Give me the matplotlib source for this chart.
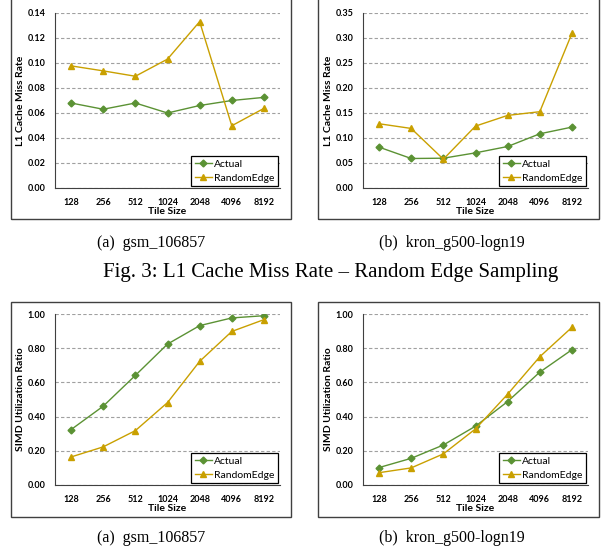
import numpy as np
import matplotlib.pyplot as plt
from matplotlib.patches import Rectangle

# Tile sizes (categories)
tiles = ['128', '256', '512', '1024', '2048', '4096', '8192']

# L1 cache miss rate
gsm_l1_actual = [0.068, 0.063, 0.068, 0.060, 0.066, 0.070, 0.0725]
gsm_l1_random = [0.0977, 0.0937, 0.0894, 0.1031, 0.1331, 0.0498, 0.0637]
kron_l1_actual = [0.0817, 0.0590, 0.0596, 0.0703, 0.0830, 0.1084, 0.1218]
kron_l1_random = [0.1285, 0.1191, 0.0576, 0.1238, 0.1452, 0.1526, 0.3092]

# SIMD utilization ratio
gsm_simd_actual = [0.324, 0.461, 0.641, 0.824, 0.932, 0.977, 0.990]
gsm_simd_random = [0.164, 0.223, 0.318, 0.482, 0.723, 0.898, 0.967]
kron_simd_actual = [0.102, 0.156, 0.234, 0.344, 0.488, 0.660, 0.791]
kron_simd_random = [0.072, 0.100, 0.182, 0.328, 0.531, 0.750, 0.922]

green = '#5b9234'
gold = '#c9a000'
W, H = 602, 554

fig = plt.figure(figsize=(W / 100, H / 100), dpi=100)


def px_axes(x0, y0, x1, y1):
    # pixel box (top-left origin) -> figure fraction
    return [x0 / W, 1 - y1 / H, (x1 - x0) / W, (y1 - y0) / H]


def frame(x0, y0, x1, y1):
    r = Rectangle((x0 / W, 1 - y1 / H), (x1 - x0) / W, (y1 - y0) / H,
                  transform=fig.transFigure, fill=False, edgecolor='#404040',
                  linewidth=1.0)
    fig.patches.append(r)


def panel(box, actual, random, ylim, yticks, ylabel):
    ax = fig.add_axes(px_axes(*box))
    x = np.arange(len(tiles))
    ax.plot(x, actual, color=green, marker='D', markersize=3.5, linewidth=1.0,
            label='Actual')
    ax.plot(x, random, color=gold, marker='^', markersize=5, linewidth=1.0,
            label='RandomEdge')
    ax.set_xlim(-0.5, len(tiles) - 0.5)
    ax.set_ylim(*ylim)
    ax.set_yticks(yticks)
    ax.set_yticklabels([f'{v:.2f}' for v in yticks], fontsize=6.5,
                       fontweight='bold', family='Lato')
    ax.set_xticks(x)
    ax.set_xticklabels(tiles, fontsize=6.5, fontweight='bold', family='Lato')
    ax.tick_params(length=0, pad=7)
    ax.grid(axis='y', color='#a0a0a0', linestyle=(0, (3, 2)), linewidth=0.8)
    ax.set_axisbelow(True)
    for s in ['top', 'right']:
        ax.spines[s].set_visible(False)
    ax.spines['left'].set_color('#404040')
    ax.spines['bottom'].set_color('#404040')
    ax.spines['left'].set_linewidth(0.8)
    ax.spines['bottom'].set_linewidth(0.8)
    ax.set_xlabel('Tile Size', fontsize=7.5, fontweight='bold', family='Lato',
                  labelpad=0)
    ax.set_ylabel(ylabel, fontsize=7.5, fontweight='bold', family='Lato',
                  labelpad=2)
    leg = ax.legend(loc='lower right', bbox_to_anchor=(0.99, 0.01),
                    borderaxespad=0, fancybox=False, framealpha=1,
                    edgecolor='black', prop={'family': 'Lato', 'size': 7.5},
                    handlelength=1.6, handletextpad=0.2, borderpad=0.35,
                    labelspacing=0.45)
    leg.get_frame().set_linewidth(0.9)
    return ax


# top row: L1 cache miss rate
frame(11, -10, 291, 219)
frame(318, -10, 599, 219)
panel((55, 13, 280, 188), gsm_l1_actual, gsm_l1_random, (0, 0.14),
      np.arange(0, 0.141, 0.02), 'L1 Cache Miss Rate')
panel((363, 13, 588, 188), kron_l1_actual, kron_l1_random, (0, 0.35),
      np.arange(0, 0.351, 0.05), 'L1 Cache Miss Rate')

# bottom row: SIMD utilization ratio
frame(11, 302, 291, 517)
frame(318, 302, 599, 517)
panel((55, 314, 280, 485), gsm_simd_actual, gsm_simd_random, (0, 1.0),
      np.arange(0, 1.01, 0.2), 'SIMD Utilization Ratio')
panel((363, 314, 588, 485), kron_simd_actual, kron_simd_random, (0, 1.0),
      np.arange(0, 1.01, 0.2), 'SIMD Utilization Ratio')

# captions
cap = dict(family='Liberation Serif', fontsize=11.5, ha='center', va='center')
fig.text(151 / W, 1 - 243 / H, '(a)  gsm_106857', **cap)
fig.text(452 / W, 1 - 243 / H, '(b)  kron_g500-logn19', **cap)
fig.text(331 / W, 1 - 273 / H, 'Fig. 3: L1 Cache Miss Rate \u2013 Random Edge Sampling',
         family='Liberation Serif', fontsize=15, ha='center', va='center')
fig.text(151 / W, 1 - 538 / H, '(a)  gsm_106857', **cap)
fig.text(452 / W, 1 - 538 / H, '(b)  kron_g500-logn19', **cap)

fig.savefig('out.png', dpi=100)
